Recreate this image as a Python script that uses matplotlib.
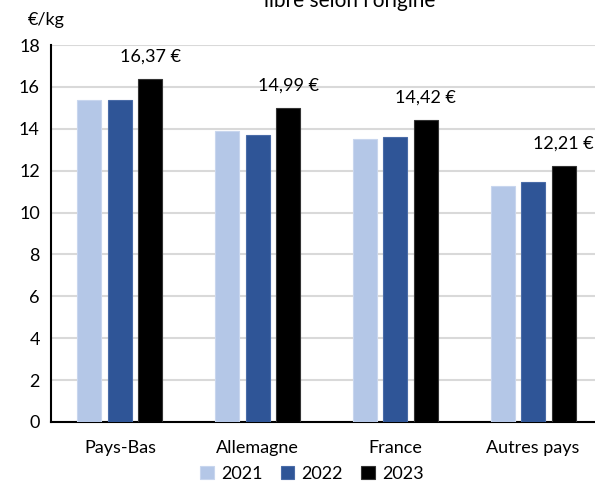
import numpy as np
import matplotlib.pyplot as plt

# data
categories = ["Pays-Bas", "Allemagne", "France", "Autres pays"]
years = ["2021", "2022", "2023"]
v2021 = [15.36, 13.90, 13.50, 11.28]
v2022 = [15.36, 13.68, 13.63, 11.44]
v2023 = [16.37, 14.99, 14.42, 12.21]
labels_2023 = ["16,37 €", "14,99 €", "14,42 €", "12,21 €"]
yticks = [0, 2, 4, 6, 8, 10, 12, 14, 16, 18]

colors = ["#B4C7E7", "#2F5597", "#000000"]
edges = ["#C8D6EE", "#4A6CA8", "#333333"]

plt.rcParams['font.family'] = ['Lato', 'DejaVu Sans']
fs = 13

fig = plt.figure(figsize=(5.95, 4.93), dpi=100)
ax = fig.add_axes([51/595, 71/493, 551/595, 377/493])

x = np.arange(len(categories))
pitch = 0.221
width = 0.174
series = [v2021, v2022, v2023]
for i, vals in enumerate(series):
    ax.bar(x + (i - 1) * pitch, vals, width, color=colors[i], edgecolor=edges[i],
           linewidth=0.8, label=years[i], zorder=3)

for xi, v, lab in zip(x, v2023, labels_2023):
    ax.annotate(lab, (xi + pitch, v), xytext=(0, 16), textcoords="offset points",
                ha="center", va="center", fontsize=fs, color="#000000")

ax.set_xlim(-0.5, 3.5)
ax.set_ylim(0, 18)
ax.set_yticks(yticks)
ax.set_xticks(x)
ax.set_xticklabels(categories, fontsize=fs)
ax.tick_params(axis="y", length=0, pad=8, labelsize=fs)
ax.tick_params(axis="x", length=0, pad=13)
ax.grid(axis="y", color="#D9D9D9", linewidth=1.5, zorder=0)
ax.set_axisbelow(True)
for s in ["top", "right"]:
    ax.spines[s].set_visible(False)
ax.spines["left"].set_linewidth(1.5)
ax.spines["bottom"].set_linewidth(1.5)

fig.text(28/595, 1 - 20/493, "€/kg", fontsize=fs, va="center", ha="left")
# second line of the title, cropped at the top as in the reference
fig.text(350/595, 1 - 7/493, "libre selon l'origine", fontsize=15,
         ha="center", va="baseline")

ax.legend(loc="center", bbox_to_anchor=(312/595, 1 - 474/493),
          bbox_transform=fig.transFigure, ncol=3, frameon=False,
          fontsize=fs, handlelength=0.75, handleheight=0.75,
          handletextpad=0.4, columnspacing=1.0)

fig.savefig("out.png", dpi=100)
